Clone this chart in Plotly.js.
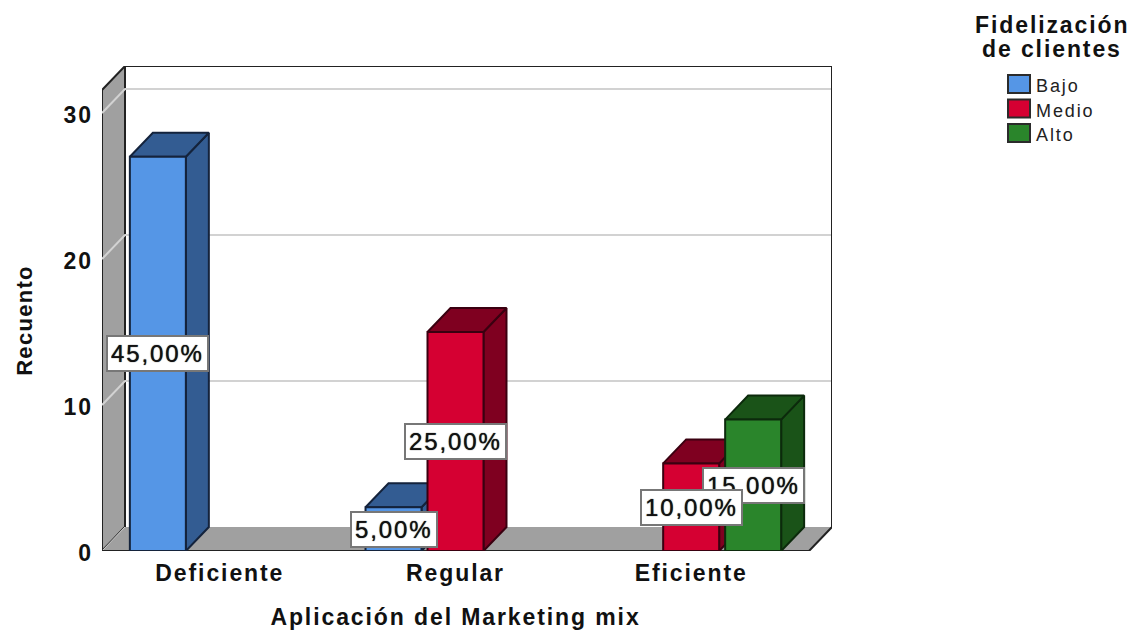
<!DOCTYPE html>
<html lang="es">
<head>
<meta charset="utf-8">
<title>Fidelización de clientes por aplicación del Marketing mix</title>
<script src="https://cdn.plot.ly/plotly-3.0.1.min.js"></script>
<style>
  html, body { margin: 0; padding: 0; background: #fff; }
  #chart { width: 1132px; height: 630px; }
  text { letter-spacing: 1.9px; }
  text.y2title { letter-spacing: 1.3px; }
  g.y2tick { transform: translateY(2px); }
</style>
</head>
<body>
<div id="chart"></div>
<script>
// Counts per category
const categories = ['Deficiente', 'Regular', 'Eficiente'];
const seriesNames = ['Bajo', 'Medio', 'Alto'];
const bajo = [27, 3, null];
const medio = [null, 15, 6];
const alto = [null, null, 9];
const yTicks = [0, 10, 20, 30];

// Face colours for each series
const frontColors = ['#5596E6', '#D50032', '#2A852B'];
const shadeColors = ['#335C92', '#7F0020', '#1A5318'];
const edgeColors = ['#14233C', '#3A0010', '#0C2A0C'];

const wallGrey = '#A0A0A0';
const gridGrey = '#D2D2D2';
const frameDark = '#222222';
const fontFamily = '"Liberation Sans", Arial, sans-serif';

// Extruded look: how far the back plane sits behind the front one, in axis units
const depthX = 0.0976;
const depthY = 1.644;
const xMin = -0.5, xMax = 2.5, yMax = 31.575;

// Grouped bar geometry, in category units
const slot = 0.263;
const barWidth = 0.2376;

// Page box of the whole drawing, front plane plus depth
const plotLeft = 102, plotRight = 832, plotTop = 66, plotBottom = 551;
const pageWidth = 1132, pageHeight = 630;

const allSeries = [bajo, medio, alto];
const total = allSeries.flat().reduce((sum, v) => sum + (v || 0), 0);
const percentText = v => (v / total * 100).toFixed(2).replace('.', ',') + '%';
const paperX = px => (px - plotLeft) / (plotRight - plotLeft);
const paperY = py => (plotBottom - py) / (plotBottom - plotTop);

function polygon(xs, ys, fillcolor, lineColor, lineWidth) {
  return {
    type: 'scatter', mode: 'lines', x: xs, y: ys,
    fill: 'toself', fillcolor: fillcolor,
    line: { color: lineColor || fillcolor, width: lineWidth === undefined ? 2 : lineWidth },
    hoverinfo: 'skip', showlegend: false
  };
}

function lines(xs, ys, color, width) {
  return {
    type: 'scatter', mode: 'lines', x: xs, y: ys,
    line: { color: color, width: width },
    hoverinfo: 'skip', showlegend: false
  };
}

const traces = [];

// Side wall and floor
traces.push(polygon(
  [xMin, xMin + depthX, xMin + depthX, xMin, xMin],
  [0, depthY, yMax + depthY, yMax, 0],
  wallGrey, frameDark, 2));
traces.push(polygon(
  [xMin, xMax, xMax + depthX, xMin + depthX, xMin],
  [0, 0, depthY, depthY, 0],
  wallGrey, wallGrey, 0));

// Gridlines run along the side wall and across the back wall
const gridX = [], gridY = [];
yTicks.forEach(t => {
  if (t > 0) {
    gridX.push(xMin, xMin + depthX, xMax + depthX, null);
    gridY.push(t, t + depthY, t + depthY, null);
  }
});
traces.push(lines(gridX, gridY, gridGrey, 2));
traces.push(lines([xMin, xMin + depthX], [0, depthY], gridGrey, 1));

// Outline of the box
traces.push(lines(
  [xMin + depthX, xMax + depthX, xMax + depthX, xMax, xMin],
  [yMax + depthY, yMax + depthY, depthY, 0, 0],
  frameDark, 2));

// Side and top faces of the bars; the front faces sit on the second subplot, above these
allSeries.forEach((values, s) => {
  values.forEach((v, c) => {
    if (v === null) return;
    const mid = c + (s - 1) * slot;
    const x0 = mid - barWidth / 2, x1 = mid + barWidth / 2;
    traces.push(polygon(
      [x1, x1 + depthX, x1 + depthX, x1, x1],
      [0, depthY, v + depthY, v, 0],
      shadeColors[s], edgeColors[s]));
    traces.push(polygon(
      [x0, x0 + depthX, x1 + depthX, x1, x0],
      [v, v + depthY, v + depthY, v, v],
      shadeColors[s], edgeColors[s]));
  });
});

allSeries.forEach((values, s) => {
  traces.push({
    type: 'bar', name: seriesNames[s],
    x: categories.map((_, i) => i), y: values,
    xaxis: 'x2', yaxis: 'y2',
    marker: { color: frontColors[s], line: { color: edgeColors[s], width: 2 } },
    cliponaxis: false, hoverinfo: 'skip', showlegend: false
  });
});

// Percentage labels sit halfway up each bar; later ones stay on top
const labelOrder = [[0, 0], [1, 0], [1, 1], [2, 2], [2, 1]];
const annotations = labelOrder.map(([c, s]) => {
  const v = allSeries[s][c];
  return {
    x: c + (s - 1) * slot, y: v / 2, xref: 'x', yref: 'y',
    text: percentText(v), showarrow: false,
    font: { family: fontFamily, size: 24, color: '#111111', shadow: '0 0 1px #111111' },
    bgcolor: '#FFFFFF', bordercolor: '#777777', borderwidth: 2, borderpad: 3,
    height: 27
  };
});

// Legend block
const legendX = 1008, legendW = 22, legendH = 18;
const legendTops = [75, 99.5, 124];
const shapes = seriesNames.map((_, s) => ({
  type: 'rect', xref: 'paper', yref: 'paper', layer: 'above',
  x0: paperX(legendX), x1: paperX(legendX + legendW),
  y0: paperY(legendTops[s]), y1: paperY(legendTops[s] + legendH),
  fillcolor: frontColors[s], line: { color: '#2B2B2B', width: 2 }
}));
seriesNames.forEach((name, s) => {
  annotations.push({
    xref: 'paper', yref: 'paper', x: paperX(1034), y: paperY(legendTops[s] + legendH / 2 + 2),
    xanchor: 'left', yanchor: 'middle', showarrow: false, text: name,
    font: { family: fontFamily, size: 18, color: '#222222' }
  });
});
[['Fidelización', 25], ['de clientes', 49]].forEach(([line, py]) => {
  annotations.push({
    xref: 'paper', yref: 'paper', x: paperX(1052), y: paperY(py),
    xanchor: 'center', yanchor: 'middle', showarrow: false,
    text: line,
    font: { family: fontFamily, size: 23, color: '#111111', weight: 700 }
  });
});

const boldFont = { family: fontFamily, size: 23, color: '#111111', weight: 700 };
const frontShareX = (xMax - xMin) / (xMax + depthX - xMin);
const frontShareY = yMax / (yMax + depthY);

const layout = {
  width: pageWidth, height: pageHeight,
  margin: { l: plotLeft, r: pageWidth - plotRight, t: plotTop, b: pageHeight - plotBottom, pad: 0 },
  paper_bgcolor: '#FFFFFF', plot_bgcolor: 'rgba(0,0,0,0)',
  showlegend: false,
  barmode: 'group',
  bargap: 1 - 3 * slot,
  bargroupgap: 1 - barWidth / slot,
  // Full box: walls, floor and the receding faces
  xaxis: { domain: [0, 1], range: [xMin, xMax + depthX], visible: false },
  yaxis: { domain: [0, 1], range: [0, yMax + depthY], visible: false },
  // Front plane: bar fronts, tick labels and axis titles
  xaxis2: {
    domain: [0, frontShareX], anchor: 'y2',
    range: [xMin, xMax], tickmode: 'array',
    tickvals: categories.map((_, i) => i), ticktext: categories,
    tickfont: boldFont,
    showgrid: false, zeroline: false, showline: false, ticks: '', ticklabelstandoff: 6,
    title: { text: 'Aplicación del Marketing mix', standoff: 25, font: boldFont }
  },
  yaxis2: {
    domain: [0, frontShareY], anchor: 'x2',
    range: [0, yMax], tickmode: 'array', tickvals: yTicks,
    tickfont: boldFont,
    showgrid: false, zeroline: false, showline: false, ticks: '', ticklabelstandoff: 8,
    title: { text: 'Recuento', standoff: 24, font: Object.assign({}, boldFont, { size: 22 }) }
  },
  annotations: annotations,
  shapes: shapes
};

Plotly.newPlot('chart', traces, layout, { displayModeBar: false, responsive: false });
</script>
</body>
</html>
